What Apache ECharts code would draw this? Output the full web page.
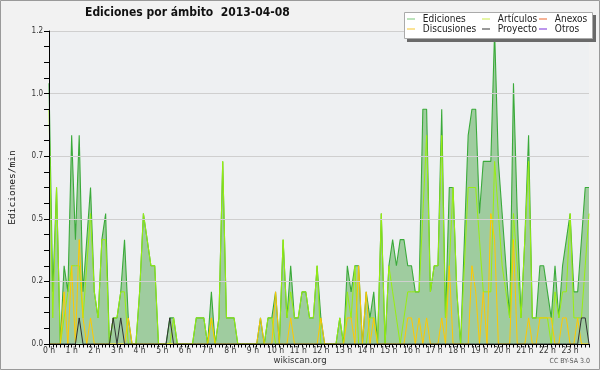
<!DOCTYPE html>
<html><head><meta charset="utf-8">
<script src="https://cdn.jsdelivr.net/npm/echarts@6/dist/echarts.min.js"></script>
<style>html,body{margin:0;padding:0;background:#f2f2f2}#c{width:600px;height:370px}</style>
</head><body><div id="c"></div>
<script>
// Hour tick labels
const hourLabels = ['0 h','1 h','2 h','3 h','4 h','5 h','6 h','7 h','8 h','9 h','10 h','11 h','12 h','13 h','14 h','15 h','16 h','17 h','18 h','19 h','20 h','21 h','22 h','23 h'];

// Ediciones/min per 10-minute bin (144 bins)
const ediciones = [
 1.0,0.2,0.6,0,0.3,0.2,0.8,0.4,0.8,0.2,0.4,0.6,
 0.2,0.1,0.4,0.5,0,0.1,0.1,0.2,0.4,0.1,0,0,
 0.2,0.5,0.4,0.3,0.3,0,0,0,0.1,0.1,0,0,
 0,0,0,0.1,0.1,0.1,0,0.2,0,0.1,0.7,0.1,
 0.1,0.1,0,0,0,0,0,0,0.1,0,0.1,0.1,
 0.2,0,0.4,0.1,0.3,0.1,0.1,0.2,0.2,0.1,0.1,0.3,
 0.1,0,0,0,0,0.1,0,0.3,0.2,0.3,0.3,0,
 0.2,0.1,0.2,0,0.5,0,0.3,0.4,0.3,0.4,0.4,0.3,
 0.3,0.2,0.2,0.9,0.9,0.2,0.3,0.3,0.9,0.1,0.6,0.6,
 0.2,0,0.4,0.8,0.9,0.9,0.5,0.7,0.7,0.7,1.2,0.7,
 0.5,0.3,0.1,1.0,0.5,0.1,0.4,0.8,0.1,0.1,0.3,0.3,
 0.2,0.1,0.3,0.1,0.3,0.4,0.5,0.2,0.2,0.4,0.6,0.6
];
const articulos = [
 0.9,0.1,0.6,0,0.1,0.2,0.3,0.3,0.3,0.1,0.3,0.5,
 0.2,0.1,0.4,0.4,0,0.1,0.1,0.2,0.2,0,0,0,
 0.2,0.5,0.4,0.3,0.3,0,0,0,0,0.1,0,0,
 0,0,0,0.1,0.1,0.1,0,0.1,0,0.1,0.7,0.1,
 0.1,0.1,0,0,0,0,0,0,0,0,0.1,0.1,
 0,0,0.4,0.1,0.2,0.1,0.1,0.2,0.2,0.1,0.1,0.3,
 0,0,0,0,0,0.1,0,0.2,0.1,0.3,0,0,
 0,0.1,0.1,0,0.5,0,0.3,0.2,0.1,0,0.1,0.2,
 0.2,0.2,0.2,0.5,0.8,0.2,0.3,0.3,0.8,0.1,0.3,0.6,
 0.2,0,0.3,0.6,0.6,0.6,0.4,0.2,0.2,0.2,0.7,0.5,
 0.3,0.2,0.1,0.5,0.3,0.1,0.4,0.7,0.1,0.1,0.1,0.1,
 0.1,0,0.2,0.1,0.2,0.2,0.5,0.1,0.1,0.1,0.3,0.5
];
const discusiones = [
 0,0,0,0,0.2,0,0.3,0,0.4,0.1,0,0.1,
 0,0,0,0,0,0,0,0,0,0.1,0,0,
 0,0,0,0,0,0,0,0,0,0,0,0,
 0,0,0,0,0,0,0,0.1,0,0,0,0,
 0,0,0,0,0,0,0,0,0.1,0,0,0,
 0.2,0,0,0,0.1,0,0,0,0,0,0,0,
 0.1,0,0,0,0,0,0,0.1,0.1,0,0.3,0,
 0.2,0,0.1,0,0,0,0,0,0,0,0,0.1,
 0.1,0,0.1,0,0.1,0,0,0,0.1,0,0.3,0,
 0,0,0,0,0.3,0.2,0,0.2,0,0.5,0.4,0,
 0,0,0,0.4,0,0,0,0.1,0,0,0.1,0.1,
 0.1,0.1,0,0,0.1,0.1,0,0,0.1,0,0,0
];
const proyecto = [
 0,0,0,0,0,0,0,0,0.1,0,0,0,
 0,0,0,0,0,0.1,0,0.1,0,0,0,0,
 0,0,0,0,0,0,0,0,0.1,0,0,0,
 0,0,0,0,0,0,0,0,0,0,0,0,
 0,0,0,0,0,0,0,0,0,0,0,0,
 0,0,0,0,0,0,0,0,0,0,0,0,
 0,0,0,0,0,0,0,0,0,0,0,0,
 0,0,0,0,0,0,0,0,0,0,0,0,
 0,0,0,0,0,0,0,0,0,0,0,0,
 0,0,0,0,0,0,0,0,0,0,0,0,
 0,0,0,0,0,0,0,0,0,0,0,0,
 0,0,0,0,0,0,0,0,0,0.1,0.1,0
];
const anexos = [];
const otros = [];

const times = [];
for (let i = 0; i < 144; i++) times.push(String(Math.floor(i/6)).padStart(2,'0') + ':' + (i%6) + '0');

const CFONT = '"DejaVu Sans Condensed", "DejaVu Sans"';
const chart = echarts.init(document.getElementById('c'), null, {renderer:'canvas'});
const legendText = {fontFamily: CFONT, fontSize: 10, color: '#222', lineHeight: 10};
const mkLegend = (items, left) => ({
  orient: 'vertical', left: left, top: 14, padding: 0, itemGap: 0,
  itemWidth: 8, itemHeight: 1.2, icon: 'rect', selectedMode: false,
  formatter: n => ' ' + n, textStyle: legendText, data: items, z: 95
});
chart.setOption({
  animation: false,
  backgroundColor: '#f2f2f2',
  title: {text: 'Ediciones por ámbito  2013-04-08', left: 85, top: 7, padding: 0,
    textStyle: {fontFamily: CFONT, fontSize: 12, fontWeight: 'bold', color: '#111'}},
  graphic: [
    {type:'rect', shape:{x:0.5,y:0.5,width:599,height:369}, style:{fill:'none', stroke:'#9a9a9a', lineWidth:1}, z:100},
    {type:'rect', shape:{x:407,y:15,width:189,height:27}, style:{fill:'#6a6a6a'}, z:90},
    {type:'rect', shape:{x:404.5,y:12.5,width:188,height:26}, style:{fill:'#ffffff', stroke:'#aaaaaa', lineWidth:1}, z:91},
    {type:'text', x:300, y:356, style:{text:'wikiscan.org', fontFamily:CFONT, fontSize:9.5, fill:'#333', align:'center'}, z:100},
    {type:'text', x:590, y:358, style:{text:'CC BY-SA 3.0', fontFamily:CFONT, fontSize:7, fill:'#555', align:'right'}, z:100}
  ],
  legend: [
    mkLegend([{name:'Ediciones', itemStyle:{color:'#8fd18f'}}, {name:'Discusiones', itemStyle:{color:'#f8d050'}}], 407),
    mkLegend([{name:'Artículos', itemStyle:{color:'#d4ee6a'}}, {name:'Proyecto', itemStyle:{color:'#555555'}}], 482),
    mkLegend([{name:'Anexos', itemStyle:{color:'#f08050'}}, {name:'Otros', itemStyle:{color:'#9050e0'}}], 539)
  ],
  grid: {left: 46.7, right: 11, top: 31, bottom: 26, show: true, backgroundColor: '#eef0f2', borderWidth: 0},
  xAxis: {
    type: 'category', data: times, boundaryGap: false, z: 10,
    axisLine: {lineStyle: {color: '#000', width: 1}},
    axisTick: {interval: 0, length: 3.5, lineStyle: {color: '#000'}},
    axisLabel: {interval: 5, margin: 2, fontFamily: CFONT, fontSize: 8.5, color: '#333',
      formatter: (v, idx) => hourLabels[Math.round(idx/6)]},
    splitLine: {show: false}
  },
  yAxis: {
    type: 'value', min: 0, max: 1.2, interval: 0.24, z: 10,
    name: 'Ediciones/min', nameLocation: 'middle', nameGap: 31, nameRotate: 90,
    nameTextStyle: {fontFamily: 'DejaVu Sans Mono', fontSize: 9.5, color: '#111'},
    axisLine: {show: true, lineStyle: {color: '#000', width: 1}},
    axisTick: {show: true, length: 5, lineStyle: {color: '#000'}},
    minorTick: {show: true, splitNumber: 4, length: 5, lineStyle: {color: '#000'}},
    axisLabel: {margin: 6, fontFamily: CFONT, fontSize: 8, color: '#333',
      formatter: v => v.toFixed(1)},
    splitLine: {lineStyle: {color: '#cfcfcf', width: 1}}
  },
  series: [
    {name:'Ediciones', type:'line', data: ediciones, symbol:'none', z:2,
      lineStyle:{color:'#3aaa3a', width:1.1}, itemStyle:{color:'#3aaa3a'},
      areaStyle:{color:'#9fcc9f', opacity:1}, emphasis:{disabled:true}},
    {name:'Anexos', type:'line', data: anexos, symbol:'none', z:3, lineStyle:{color:'#f08050', width:1}, itemStyle:{color:'#f08050'}},
    {name:'Otros', type:'line', data: otros, symbol:'none', z:3, lineStyle:{color:'#9050e0', width:1}, itemStyle:{color:'#9050e0'}},
    {name:'Artículos', type:'line', data: articulos, symbol:'none', z:4,
      lineStyle:{color:'#99ee11', width:1}, itemStyle:{color:'#99ee11'}, emphasis:{disabled:true}},
    {name:'Discusiones', type:'line', data: discusiones, symbol:'none', z:5,
      lineStyle:{color:'#ffc800', width:1}, itemStyle:{color:'#ffc800'}, emphasis:{disabled:true}},
    {name:'Proyecto', type:'line', data: proyecto, symbol:'none', z:6,
      lineStyle:{color:'#333333', width:1}, itemStyle:{color:'#333333'}, emphasis:{disabled:true}}
  ]
});
</script></body></html>
